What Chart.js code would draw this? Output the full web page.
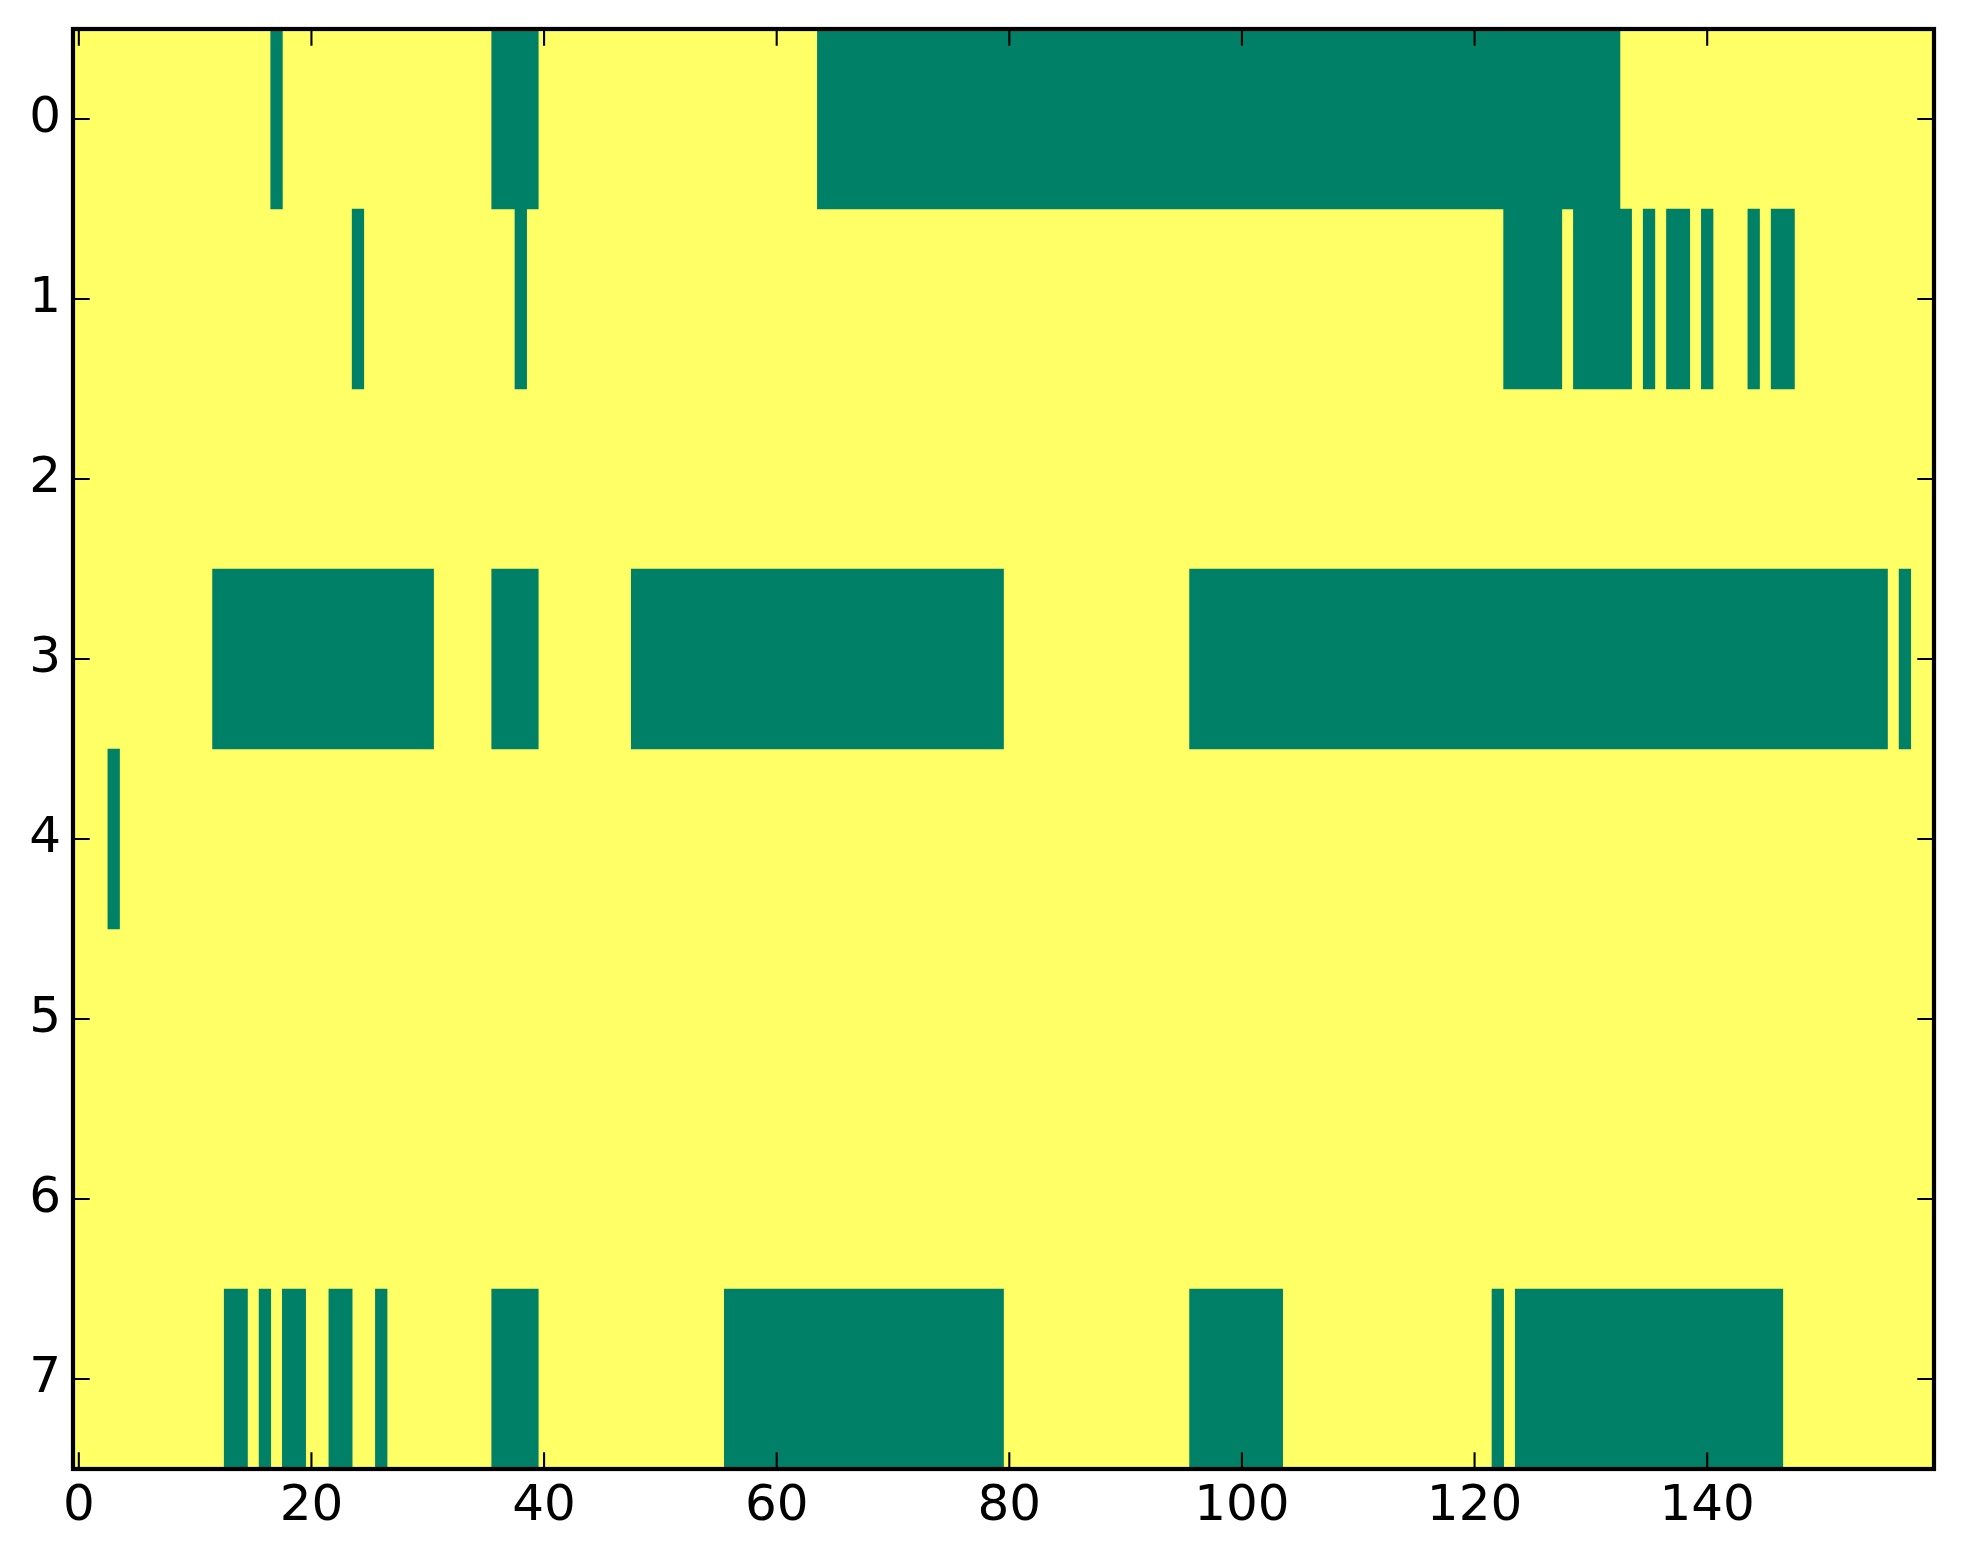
<!DOCTYPE html>
<html lang="en">
  <head>
    <meta charset="UTF-8" />
    <title>Binary matrix</title>
    <style>
      body { margin: 0; background: #fff; }
      #chart { display: block; }
    </style>
  </head>
  <body>
    <canvas id="chart" width="1963" height="1564" style="width:1963px;height:1564px"></canvas>

    <script src="https://cdn.jsdelivr.net/npm/chart.js"></script>
    <script>
      // row indices of the matrix (image rows, top to bottom)
      const rows = [0, 1, 2, 3, 4, 5, 6, 7];
      const nCols = 160;

      // runs of columns [first, last] that hold the low value (green); everything else is high (yellow)
      const row0 = [[17, 17], [36, 39], [64, 132]];
      const row1 = [[24, 24], [38, 38], [123, 127], [129, 133], [135, 135], [137, 138], [140, 140], [144, 144], [146, 147]];
      const row2 = [];
      const row3 = [[12, 30], [36, 39], [48, 79], [96, 155], [157, 157]];
      const row4 = [[3, 3]];
      const row5 = [];
      const row6 = [];
      const row7 = [[13, 14], [16, 16], [18, 19], [22, 23], [26, 26], [36, 39], [56, 79], [96, 103], [122, 122], [124, 146]];

      const xTicks = [0, 20, 40, 60, 80, 100, 120, 140];
      const yTicks = [0, 1, 2, 3, 4, 5, 6, 7];

      const lowColor = "#008066";
      const highColor = "#ffff66";

      const allRuns = [row0, row1, row2, row3, row4, row5, row6, row7];
      const cells = [];
      rows.forEach(function (r) {
        allRuns[r].forEach(function (run) {
          cells.push({ y: r, x: [run[0] - 0.5, run[1] + 0.5] });
        });
      });

      // yellow image background + black frame with inward ticks (classic matplotlib look)
      const imagePlugin = {
        id: "imageFrame",
        beforeDatasetsDraw(chart) {
          const a = chart.chartArea;
          const ctx = chart.ctx;
          ctx.save();
          ctx.fillStyle = highColor;
          ctx.fillRect(a.left, a.top, a.right - a.left, a.bottom - a.top);
          ctx.restore();
        },
        afterDraw(chart) {
          const a = chart.chartArea;
          const ctx = chart.ctx;
          const xs = chart.scales.x;
          const ys = chart.scales.y;
          const tl = 16.7;
          ctx.save();
          ctx.strokeStyle = "#000";
          ctx.lineWidth = 2.1;
          ctx.beginPath();
          xTicks.forEach(function (t) {
            const px = xs.getPixelForValue(t);
            ctx.moveTo(px, a.bottom);
            ctx.lineTo(px, a.bottom - tl);
            ctx.moveTo(px, a.top);
            ctx.lineTo(px, a.top + tl);
          });
          yTicks.forEach(function (t) {
            const py = ys.getPixelForValue(t);
            ctx.moveTo(a.left, py);
            ctx.lineTo(a.left + tl, py);
            ctx.moveTo(a.right, py);
            ctx.lineTo(a.right - tl, py);
          });
          ctx.stroke();
          ctx.lineWidth = 4.2;
          ctx.strokeRect(a.left, a.top, a.right - a.left, a.bottom - a.top);
          ctx.restore();
        },
      };

      new Chart(document.getElementById("chart").getContext("2d"), {
        type: "bar",
        data: {
          datasets: [
            {
              data: cells,
              backgroundColor: lowColor,
              borderWidth: 0,
              barPercentage: 1,
              categoryPercentage: 1,
            },
          ],
        },
        options: {
          indexAxis: "y",
          responsive: false,
          devicePixelRatio: 1,
          animation: false,
          layout: { padding: { left: 0, top: 29, right: 29, bottom: 0 } },
          plugins: { legend: { display: false }, tooltip: { enabled: false } },
          scales: {
            x: {
              type: "linear",
              min: -0.5,
              max: nCols - 0.5,
              grid: { display: false, drawTicks: false },
              border: { display: false },
              afterBuildTicks: function (s) {
                s.ticks = xTicks.map(function (v) { return { value: v }; });
              },
              afterFit: function (s) { s.height = 95; },
              ticks: {
                autoSkip: false,
                maxRotation: 0,
                padding: 8,
                color: "#000",
                font: { family: "DejaVu Sans", size: 50 },
              },
            },
            y: {
              type: "linear",
              reverse: true,
              offset: false,
              min: -0.5,
              max: rows.length - 0.5,
              grid: { display: false, drawTicks: false },
              border: { display: false },
              afterBuildTicks: function (s) {
                s.ticks = yTicks.map(function (v) { return { value: v }; });
              },
              afterFit: function (s) {
                s.width = 73;
                s.paddingTop = 0;
                s.paddingBottom = 0;
              },
              ticks: {
                autoSkip: false,
                padding: 12,
                color: "#000",
                font: { family: "DejaVu Sans", size: 50 },
              },
            },
          },
        },
        plugins: [imagePlugin],
      });
    </script>
  </body>
</html>
